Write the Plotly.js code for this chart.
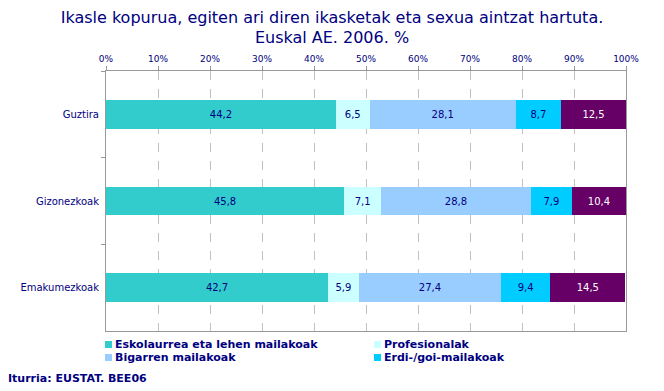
<!DOCTYPE html>
<html>
<head>
<meta charset="utf-8">
<script src="https://cdn.plot.ly/plotly-3.0.1.min.js"></script>
<style>html,body{margin:0;padding:0;background:#fff;}#chart{width:664px;height:391px;}</style>
</head>
<body>
<div id="chart"></div>
<script>
var categories = ['Guztira', 'Gizonezkoak', 'Emakumezkoak'];
var seriesNames = ['Eskolaurrea eta lehen mailakoak', 'Profesionalak', 'Bigarren mailakoak', 'Erdi-/goi-mailakoak', 'Unibertsitarioak'];
var eskolaurrea = [44.2, 45.8, 42.7];
var profesionalak = [6.5, 7.1, 5.9];
var bigarren = [28.1, 28.8, 27.4];
var erdiGoi = [8.7, 7.9, 9.4];
var besteak = [12.5, 10.4, 14.5];
var tickVals = [0, 10, 20, 30, 40, 50, 60, 70, 80, 90, 100];
var tickLabels = ['0%', '10%', '20%', '30%', '40%', '50%', '60%', '70%', '80%', '90%', '100%'];
var legendEntries = [0, 1, 2, 3]; // series shown in the legend (the fifth has no legend entry)

var seriesValues = [eskolaurrea, profesionalak, bigarren, erdiGoi, besteak];
var colors = ['#33CCCC', '#CCFFFF', '#99CCFF', '#00CCFF', '#660066'];
var textColors = ['#000080', '#000080', '#000080', '#000080', '#FFFFFF'];
var navy = '#000080';
var fontFam = 'DejaVu Sans, Verdana, sans-serif';

// plot area in pixels
var L = 106, R = 626, T = 71, B = 331;
function px(x) { return (x - L) / (R - L); }
function py(y) { return (B - y) / (B - T); }

var traces = seriesValues.map(function (vals, i) {
  return {
    type: 'bar',
    orientation: 'h',
    name: seriesNames[i],
    y: categories,
    x: vals,
    width: 0.33,
    marker: {color: colors[i], line: {width: 0}},
    text: vals.map(function (v) { return v.toFixed(1).replace('.', ','); }),
    textposition: 'inside',
    insidetextanchor: 'middle',
    constraintext: 'none',
    textfont: {family: fontFam, size: 10, color: textColors[i]},
    showlegend: false,
    hoverinfo: 'name+x'
  };
});

// legend drawn as small squares + labels, two columns
var shapes = [];
var annotations = [];
legendEntries.forEach(function (s, k) {
  var col = k % 2, row = Math.floor(k / 2);
  var sx = col === 0 ? 105 : 374;
  var cy = row === 0 ? 344.5 : 357.5;
  shapes.push({
    type: 'rect', xref: 'paper', yref: 'paper',
    x0: px(sx), x1: px(sx + 7), y0: py(cy + 3.5), y1: py(cy - 3.5),
    fillcolor: colors[s], line: {width: 0}
  });
  annotations.push({
    text: seriesNames[s],
    xref: 'paper', yref: 'paper',
    x: px(sx + 8), xanchor: 'left',
    y: py(cy), yanchor: 'middle',
    showarrow: false,
    font: {family: fontFam, size: 11, color: navy, weight: 'bold'}
  });
});
annotations.push({
  text: 'Iturria: EUSTAT. BEE06',
  xref: 'paper', yref: 'paper',
  x: px(6), xanchor: 'left',
  y: py(378), yanchor: 'middle',
  showarrow: false,
  font: {family: fontFam, size: 11, color: navy, weight: 'bold'}
});

var layout = {
  width: 664,
  height: 391,
  margin: {l: L, r: 664 - R, t: T, b: 391 - B, autoexpand: false},
  paper_bgcolor: '#FFFFFF',
  plot_bgcolor: '#FFFFFF',
  barmode: 'stack',
  showlegend: false,
  font: {family: fontFam, color: navy},
  title: {
    text: 'Ikasle kopurua, egiten ari diren ikasketak eta sexua aintzat hartuta.<br>Euskal AE. 2006. %',
    font: {family: fontFam, size: 16, color: navy},
    x: 0.5, xref: 'container', xanchor: 'center',
    y: 1 - 22.5 / 391, yref: 'container', yanchor: 'middle'
  },
  xaxis: {
    side: 'top',
    range: [0, 100],
    tickvals: tickVals,
    ticktext: tickLabels,
    tickfont: {family: fontFam, size: 9, color: navy},
    ticks: 'outside',
    ticklen: 4,
    tickcolor: '#999999',
    showline: true,
    linecolor: '#999999',
    linewidth: 1,
    mirror: true,
    showgrid: true,
    gridcolor: '#C0C0C0',
    griddash: 'dash',
    zeroline: false,
    fixedrange: true
  },
  yaxis: {
    autorange: 'reversed',
    tickfont: {family: fontFam, size: 10, color: navy},
    ticks: 'outside',
    tickson: 'boundaries',
    ticklen: 4,
    tickcolor: '#999999',
    showline: true,
    linecolor: '#999999',
    linewidth: 1,
    mirror: true,
    showgrid: false,
    zeroline: false,
    ticklabelstandoff: 4,
    fixedrange: true
  },
  shapes: shapes,
  annotations: annotations
};

Plotly.newPlot('chart', traces, layout, {displayModeBar: false, staticPlot: true});
</script>
</body>
</html>
